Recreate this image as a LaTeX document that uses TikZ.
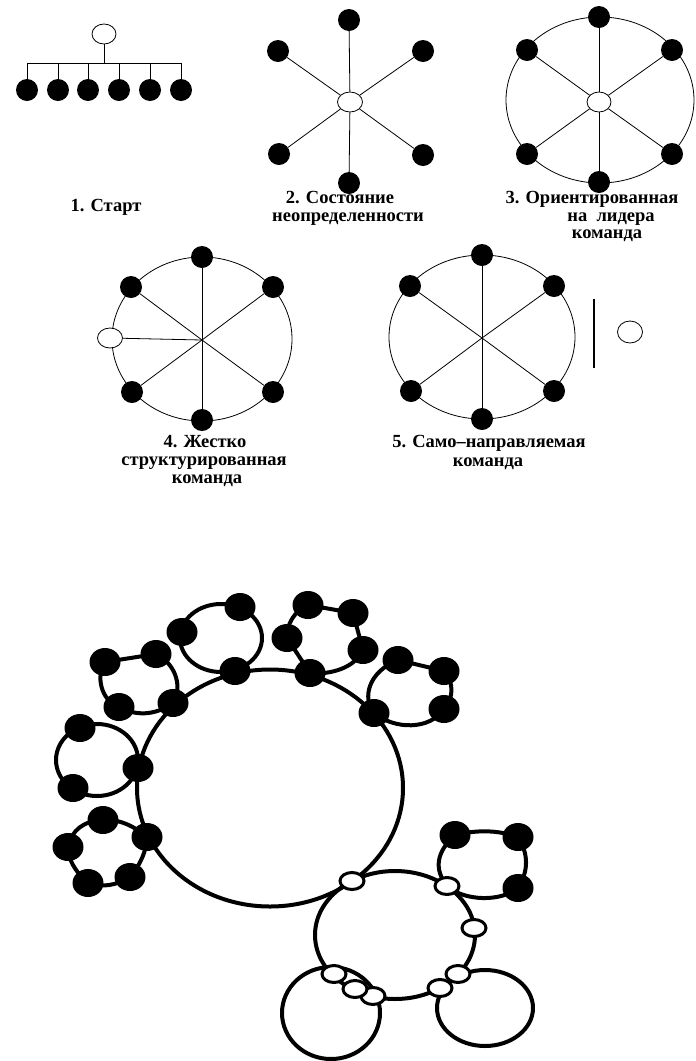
\documentclass[tikz,border=0pt]{standalone}
\usepackage{fontspec}
\setmainfont{Liberation Serif}
\usetikzlibrary{shapes.geometric}
\pgfdeclarelayer{bg}
\pgfsetlayers{bg,main}
\begin{document}
\begin{tikzpicture}[x=1pt,y=-1pt,
  bn/.style={circle,fill=black,inner sep=0pt,minimum size=22pt},
  wn/.style={ellipse,draw,line width=0.8pt,fill=white,inner sep=0pt,minimum width=24pt,minimum height=20pt},
  spoke/.style={line width=0.8pt},
  bbn/.style={ellipse,fill=black,inner sep=0pt,minimum width=31pt,minimum height=28pt},
  bwn/.style={ellipse,draw,line width=3pt,fill=white,inner sep=0pt,minimum width=24pt,minimum height=17pt},
  loopline/.style={line width=4pt,line join=round},
  lab/.style={font=\fontsize{18.5}{20}\selectfont\bfseries,inner sep=0pt,text height=12pt,text depth=3pt}
]
\begin{pgfonlayer}{bg}
\fill[white] (0,0) rectangle (696,1061);
\end{pgfonlayer}
\useasboundingbox (0,0) rectangle (696,1061);

% ---------- 1. Start
\node[wn] (d1w) at (104,34) {};
\coordinate (d1jt) at (104,63);
\foreach \i/\x in {1/27,2/58,3/88,4/119,5/150,6/181}{
  \node[bn] (d1n\i) at (\x,90) {};
  \coordinate (d1j\i) at (\x,63);
}
\draw[spoke] (d1w) -- (d1jt);
\draw[spoke] (d1j1) -- (d1j6);
\foreach \i in {1,...,6}{\draw[spoke] (d1j\i) -- (d1n\i);}
\node[lab] (t1) at (106,207) {1. Старт};

% ---------- 2. Uncertainty
\node[wn,minimum width=25pt] (d2w) at (350,102) {};
\foreach \i/\p in {1/{(349,20)},2/{(423,51)},3/{(423,155)},4/{(349,183)},5/{(279,154)},6/{(278,51)}}{
  \node[bn] (d2n\i) at \p {};
  \draw[spoke] (d2w) -- (d2n\i);
}
\node[lab] (t2a) at (340,199) {2. Состояние};
\node[lab] (t2b) at (348,216.5) {неопределенности};

% ---------- 3. Leader-oriented team
\draw[spoke] (600,100) ellipse [x radius=94pt, y radius=83pt];
\node[wn] (d3w) at (599,102) {};
\foreach \i/\p in {1/{(599,17)},2/{(672,50)},3/{(672,154)},4/{(599,182)},5/{(527,154)},6/{(527,50)}}{
  \node[bn] (d3n\i) at \p {};
  \draw[spoke] (d3w) -- (d3n\i);
}
\node[lab] (t3a) at (592,199) {3. Ориентированная};
\node[lab] (t3b) at (611,216.5) {на\ \ лидера};
\node[lab] (t3c) at (607,234) {команда};

% ---------- 4. Rigidly structured team
\draw[spoke] (202,339) ellipse [x radius=90pt, y radius=82pt];
\coordinate (d4c) at (202,340);
\node[wn,minimum width=25pt] (d4w) at (110,338) {};
\draw[spoke] (d4c) -- (d4w);
\foreach \i/\p in {1/{(202,257)},2/{(273,287)},3/{(273,392)},4/{(202,420)},5/{(132,392)},6/{(131,287)}}{
  \node[bn] (d4n\i) at \p {};
  \draw[spoke] (d4c) -- (d4n\i);
}
\node[lab] (t4a) at (205,443) {4. Жестко};
\node[lab] (t4b) at (204,461) {структурированная};
\node[lab] (t4c) at (207,478.5) {команда};

% ---------- 5. Self-directed team
\draw[spoke] (482,337) ellipse [x radius=93pt, y radius=82pt];
\coordinate (d5c) at (482,338);
\foreach \i/\p in {1/{(482,255)},2/{(554,286)},3/{(554,391)},4/{(482,419)},5/{(411,391)},6/{(410,286)}}{
  \node[bn] (d5n\i) at \p {};
  \draw[spoke] (d5c) -- (d5n\i);
}
\coordinate (d5bt) at (594,299);
\coordinate (d5bb) at (594,368);
\draw[line width=1.6pt] (d5bt) -- (d5bb);
\node[wn,minimum width=25pt,minimum height=22pt] (d5w) at (630,332) {};
\node[lab] (t5a) at (489,443) {5. Само–направляемая};
\node[lab] (t5b) at (488,462) {команда};

% ---------- Bottom: team of teams
\node[bbn] (a1) at (105,662) {};
\node[bbn] (a2) at (156,654) {};
\node[bbn] (a3) at (173,703) {};
\node[bbn] (a4) at (119,707) {};
\node[bbn] (b1) at (182,632) {};
\node[bbn] (b2) at (240,607) {};
\node[bbn] (b3) at (235,671) {};
\node[bbn] (c1) at (308,605) {};
\node[bbn] (c2) at (353,613) {};
\node[bbn] (c3) at (287,638) {};
\node[bbn] (c4) at (363,650) {};
\node[bbn] (c5) at (310,673) {};
\node[bbn] (d1) at (398,660) {};
\node[bbn] (d2) at (444,671) {};
\node[bbn] (d3) at (444,709) {};
\node[bbn] (d4) at (374,713) {};
\node[bbn] (e1) at (80,728) {};
\node[bbn] (e2) at (73,788) {};
\node[bbn] (e3) at (138,768) {};
\node[bbn] (f1) at (103,820) {};
\node[bbn] (f2) at (68,847) {};
\node[bbn] (f3) at (88,883) {};
\node[bbn] (f4) at (130,877) {};
\node[bbn] (f5) at (147,837) {};
\node[bbn] (g1) at (455,835) {};
\node[bbn] (g2) at (518,837) {};
\node[bbn] (g3) at (518,888) {};
\node[bwn] (m1) at (352,881) {};
\node[bwn] (m2) at (447,886) {};
\node[bwn] (m3) at (474,928) {};
\node[bwn] (m4) at (458,974) {};
\node[bwn] (m5) at (440,988) {};
\node[bwn] (m6) at (373,996) {};
\node[bwn] (m7) at (355,989) {};
\node[bwn] (m8) at (334,974) {};

\begin{pgfonlayer}{bg}
  % big team circle and the lower circles
  \draw[loopline] (270,788) ellipse [x radius=133pt, y radius=118.5pt];
  \draw[loopline] (395,935) ellipse [x radius=80pt, y radius=64pt];
  \draw[loopline] (331,1013) ellipse [x radius=49pt, y radius=46pt];
  \draw[loopline] (485,1008) ellipse [x radius=48pt, y radius=38pt];
  % cluster A
  \draw[loopline] (a1.center) -- (a2.center)
     .. controls (178,665) and (182,690) .. (a3.center)
     .. controls (155,716) and (135,716) .. (a4.center)
     .. controls (100,700) and (96,675) .. (a1.center) -- cycle;
  % cluster B
  \draw[loopline] (221,638) ellipse [x radius=41pt, y radius=34pt];
  % cluster C
  \draw[loopline] (c1.center) -- (c2.center) -- (c4.center)
     .. controls (355,668) and (330,675) .. (c5.center)
     -- (c3.center)
     .. controls (286,625) and (295,610) .. (c1.center) -- cycle;
  % cluster D
  \draw[loopline] (d4.center) .. controls (362,698) and (368,672) .. (d1.center)
     -- (d2.center)
     .. controls (454,683) and (454,697) .. (d3.center)
     .. controls (430,730) and (395,730) .. (d4.center) -- cycle;
  % cluster E
  \draw[loopline] (97,760) ellipse [x radius=41pt, y radius=36pt];
  % cluster F
  \draw[loopline] (f1.center) .. controls (117.7,819) and (132.3,824.6) .. (f5.center)
     .. controls (146.6,850.3) and (141,863.7) .. (f4.center)
     .. controls (116,885.7) and (102,887.7) .. (f3.center)
     .. controls (74.6,871) and (68,859) .. (f2.center)
     .. controls (71.7,830) and (83.3,821) .. (f1.center) -- cycle;
  % cluster G
  \draw[loopline] (m2.center) .. controls (433.7,869) and (436.3,852) .. (g1.center)
     .. controls (476,830) and (497,829.6) .. (g2.center)
     .. controls (528.7,854) and (528.7,871) .. (g3.center)
     .. controls (501,902) and (464.3,901.4) .. (m2.center) -- cycle;
\end{pgfonlayer}
\end{tikzpicture}
\end{document}
